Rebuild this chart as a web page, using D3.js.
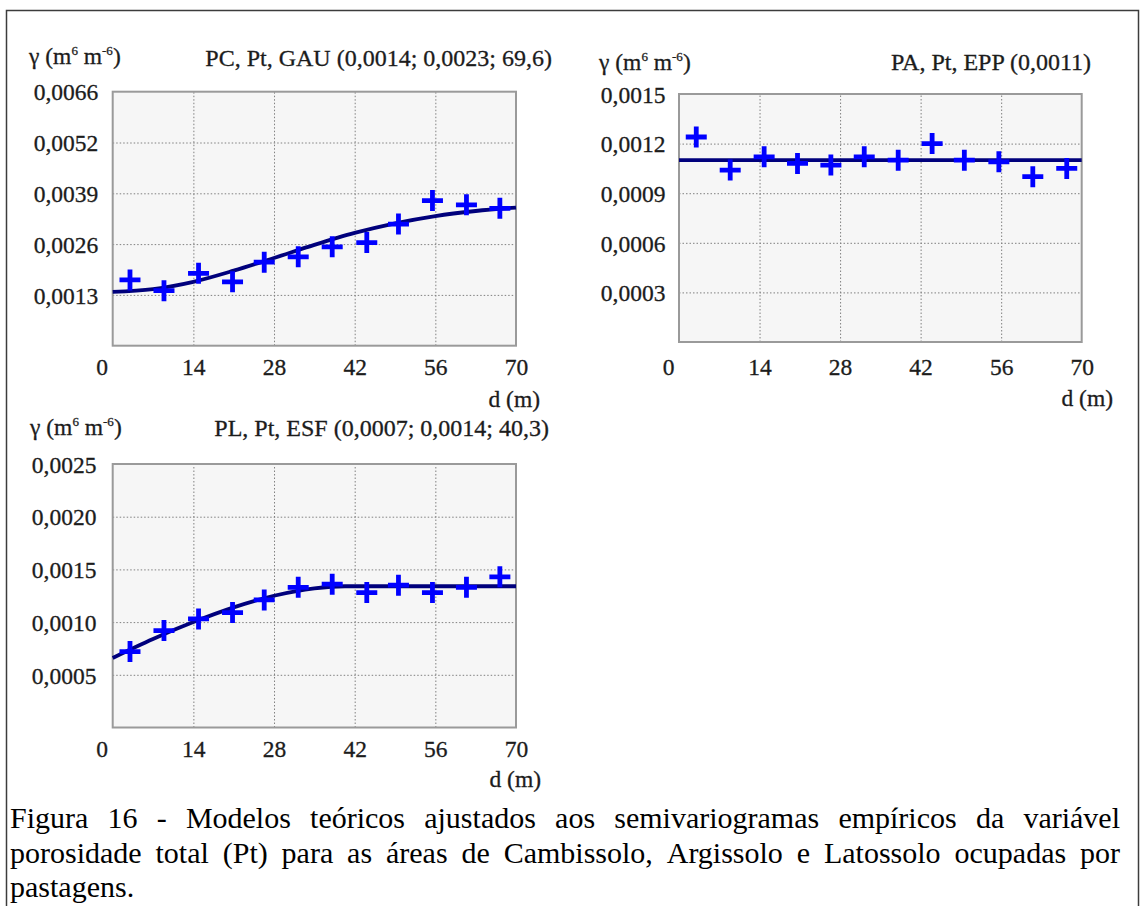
<!DOCTYPE html>
<html>
<head>
<meta charset="utf-8">
<script src="https://cdn.jsdelivr.net/npm/d3@7"></script>
<style>
  html, body { margin: 0; padding: 0; background: #fff; }
  svg { display: block; }
  text { font-family: "Liberation Serif", "Times New Roman", serif; }
  .lbl { fill: #1c1c1c; stroke: #1c1c1c; stroke-width: 0.3px; }
</style>
</head>
<body>
<svg id="fig" width="1140" height="906"></svg>
<script>
// ---- Empirical semivariograms and fitted models (porosidade total, Pt) ----

// Cambissolo (PC) – Gaussian model
const lagsPC   = [3.0, 8.9, 14.9, 20.8, 26.3, 32.2, 38.1, 44.1, 49.6, 55.5, 61.4, 67.2];
const gammaPC  = [0.00171, 0.00143, 0.00188, 0.00166, 0.00217, 0.00231, 0.00257, 0.00268, 0.00316, 0.00377, 0.00366, 0.00357];
const modelDistPC  = [0, 7, 14, 21, 28, 35, 42, 49, 56, 63, 70];
const modelGammaPC = [0.00140, 0.00147, 0.00166, 0.00195, 0.00228, 0.00262, 0.00293, 0.00318, 0.00337, 0.00350, 0.00359];

// Argissolo (PA) – pure nugget effect
const lagsPA   = [3.0, 8.9, 14.8, 20.6, 26.4, 32.2, 38.1, 44.0, 49.6, 55.6, 61.5, 67.4];
const gammaPA  = [0.00124, 0.00104, 0.00112, 0.00108, 0.00107, 0.00112, 0.00110, 0.00120, 0.00110, 0.00109, 0.00100, 0.00105];
const modelDistPA  = [0, 70];
const modelGammaPA = [0.0011, 0.0011];

// Latossolo (PL) – spherical model
const lagsPL   = [3.0, 8.9, 14.9, 20.8, 26.3, 32.2, 38.1, 44.1, 49.6, 55.5, 61.4, 67.2];
const gammaPL  = [0.00072, 0.00092, 0.00103, 0.00109, 0.00121, 0.00133, 0.00136, 0.00128, 0.00135, 0.00128, 0.00133, 0.00143];
const modelDistPL  = [0, 7, 14, 21, 28, 35, 40.3, 49, 56, 63, 70];
const modelGammaPL = [0.00066, 0.00084, 0.00100, 0.00114, 0.00125, 0.00132, 0.00134, 0.00134, 0.00134, 0.00134, 0.00134];

// Axes
const xTicks      = [0, 14, 28, 42, 56, 70];
const xTickLabels = ["0", "14", "28", "42", "56", "70"];
const xGrid       = [14, 28, 42, 56];

const yMaxPC = 0.0066;
const yTicksPC  = [0.00132, 0.00264, 0.00396, 0.00528, 0.0066];
const yLabelsPC = ["0,0013", "0,0026", "0,0039", "0,0052", "0,0066"];
const yMaxPA = 0.0015;
const yTicksPA  = [0.0003, 0.0006, 0.0009, 0.0012, 0.0015];
const yLabelsPA = ["0,0003", "0,0006", "0,0009", "0,0012", "0,0015"];
const yMaxPL = 0.0025;
const yTicksPL  = [0.0005, 0.0010, 0.0015, 0.0020, 0.0025];
const yLabelsPL = ["0,0005", "0,0010", "0,0015", "0,0020", "0,0025"];

const titles = [
  "PC, Pt, GAU (0,0014; 0,0023; 69,6)",
  "PA, Pt, EPP (0,0011)",
  "PL, Pt, ESF (0,0007; 0,0014; 40,3)"
];
const xAxisTitle = "d (m)";

const captionLines = [
  "Figura 16 - Modelos teóricos ajustados aos semivariogramas empíricos da variável",
  "porosidade total (Pt) para as áreas de Cambissolo, Argissolo e Latossolo ocupadas por",
  "pastagens."
];

// ---- Layout of the three panels ----
const panels = [
  { title: titles[0], lags: lagsPC, gamma: gammaPC, mDist: modelDistPC, mGamma: modelGammaPC,
    yMax: yMaxPC, yTicks: yTicksPC, yLabels: yLabelsPC, smooth: true,
    x0: 112.7, x1: 516, y0: 91.7, y1: 345.7,
    yLabelRight: 98.3, yTitleX: 29, yTitleY: 56, titleRight: 552, titleY: 58,
    xLabelY: 366.7, dRight: 540, dY: 399 },
  { title: titles[1], lags: lagsPA, gamma: gammaPA, mDist: modelDistPA, mGamma: modelGammaPA,
    yMax: yMaxPA, yTicks: yTicksPA, yLabels: yLabelsPA, smooth: false,
    x0: 679, x1: 1081.7, y0: 94, y1: 342,
    yLabelRight: 665.4, yTitleX: 599, yTitleY: 62, titleRight: 1091, titleY: 62,
    xLabelY: 366.7, dRight: 1113, dY: 398 },
  { title: titles[2], lags: lagsPL, gamma: gammaPL, mDist: modelDistPL, mGamma: modelGammaPL,
    yMax: yMaxPL, yTicks: yTicksPL, yLabels: yLabelsPL, smooth: true,
    x0: 112.7, x1: 516, y0: 464, y1: 727.5,
    yLabelRight: 96.4, yTitleX: 30, yTitleY: 427, titleRight: 549, titleY: 428,
    xLabelY: 748.3, dRight: 541, dY: 778.3 }
];

const svg = d3.select("#fig");

// outer frame
svg.append("rect")
  .attr("x", 6.5).attr("y", 10.5)
  .attr("width", 1132).attr("height", 920)
  .attr("fill", "none").attr("stroke", "#3c3c3c").attr("stroke-width", 1.5);

const FS = 23.5;

panels.forEach(p => {
  const x = d3.scaleLinear().domain([0, 70]).range([p.x0, p.x1]);
  const y = d3.scaleLinear().domain([0, p.yMax]).range([p.y1, p.y0]);
  const w = p.x1 - p.x0, h = p.y1 - p.y0;

  const g = svg.append("g");

  // plot background
  g.append("rect")
    .attr("x", p.x0).attr("y", p.y0).attr("width", w).attr("height", h)
    .attr("fill", "#f6f6f6");

  // dotted grid
  const gx = g.append("g").attr("transform", `translate(0,${p.y1})`)
    .call(d3.axisBottom(x).tickValues(xGrid).tickSize(-h).tickFormat(""));
  const gy = g.append("g").attr("transform", `translate(${p.x0},0)`)
    .call(d3.axisLeft(y).tickValues(p.yTicks.filter(v => v < p.yMax - 1e-9)).tickSize(-w).tickFormat(""));
  [gx, gy].forEach(a => {
    a.select(".domain").remove();
    a.selectAll("line").attr("stroke", "#808080").attr("stroke-width", 1)
      .attr("stroke-dasharray", "1.5,2");
  });

  // plot border
  g.append("rect")
    .attr("x", p.x0).attr("y", p.y0).attr("width", w).attr("height", h)
    .attr("fill", "none").attr("stroke", "#9a9a9a").attr("stroke-width", 2);

  // x tick labels
  const ax = g.append("g").attr("transform", `translate(0,${p.y1})`)
    .call(d3.axisBottom(x).tickValues(xTicks).tickSize(0)
      .tickFormat((d, i) => xTickLabels[i]));
  ax.select(".domain").remove();
  ax.selectAll("text")
    .attr("class", "lbl")
    .attr("y", p.xLabelY - p.y1).attr("dy", "0.35em")
    .attr("font-size", FS)
    .attr("dx", (d, i) => i === 0 ? -11 : 0);

  // y tick labels
  const ay = g.append("g").attr("transform", `translate(${p.x0},0)`)
    .call(d3.axisLeft(y).tickValues(p.yTicks).tickSize(0)
      .tickPadding(p.x0 - p.yLabelRight)
      .tickFormat((d, i) => p.yLabels[i]));
  ay.select(".domain").remove();
  ay.selectAll("text")
    .attr("class", "lbl")
    .attr("dy", "0.35em")
    .attr("font-size", FS);

  // y axis title  γ (m6 m-6)
  const yt = g.append("text").attr("class", "lbl")
    .attr("x", p.yTitleX).attr("y", p.yTitleY).attr("dy", "0.35em")
    .attr("font-size", FS);
  yt.append("tspan").text("γ (m");
  yt.append("tspan").attr("font-size", 13).attr("dy", -9).text("6");
  yt.append("tspan").attr("dy", 9).text(" m");
  yt.append("tspan").attr("font-size", 13).attr("dy", -9).text("-6");
  yt.append("tspan").attr("dy", 9).text(")");

  // panel title
  g.append("text").attr("class", "lbl")
    .attr("x", p.titleRight).attr("y", p.titleY).attr("dy", "0.35em")
    .attr("text-anchor", "end").attr("font-size", FS + 0.5)
    .text(p.title);

  // x axis title
  g.append("text").attr("class", "lbl")
    .attr("x", p.dRight).attr("y", p.dY).attr("dy", "0.35em")
    .attr("text-anchor", "end").attr("font-size", FS)
    .text(xAxisTitle);

  // fitted model
  const line = d3.line()
    .x(d => x(d[0])).y(d => y(d[1]))
    .curve(p.smooth ? d3.curveMonotoneX : d3.curveLinear);
  g.append("path")
    .datum(p.mDist.map((d, i) => [d, p.mGamma[i]]))
    .attr("d", line)
    .attr("fill", "none").attr("stroke", "#00007c").attr("stroke-width", 3.8);

  // empirical semivariance (cross markers)
  g.selectAll("path.pt")
    .data(p.lags.map((d, i) => [d, p.gamma[i]]))
    .join("path")
    .attr("class", "pt")
    .attr("transform", d => `translate(${x(d[0])},${y(d[1])})`)
    .attr("d", "M-10.5,0H10.5M0,-10.5V10.5")
    .attr("stroke", "#0000ff").attr("stroke-width", 4.8).attr("fill", "none");
});

// ---- Figure caption (justified) ----
const capSize = 30;
const capX0 = 10, capX1 = 1120;
const capBaselines = [828, 862.5, 897];
captionLines.forEach((ln, li) => {
  const words = ln.split(" ");
  const cg = svg.append("g");
  const nodes = words.map(wd => cg.append("text")
    .attr("y", capBaselines[li]).attr("font-size", capSize)
    .attr("fill", "#000").text(wd));
  const widths = nodes.map(n => n.node().getComputedTextLength());
  const last = li === captionLines.length - 1;
  const total = d3.sum(widths);
  const gap = last ? capSize * 0.25 : (capX1 - capX0 - total) / (words.length - 1);
  let cx = capX0;
  nodes.forEach((n, i) => { n.attr("x", cx); cx += widths[i] + gap; });
});
</script>
</body>
</html>
